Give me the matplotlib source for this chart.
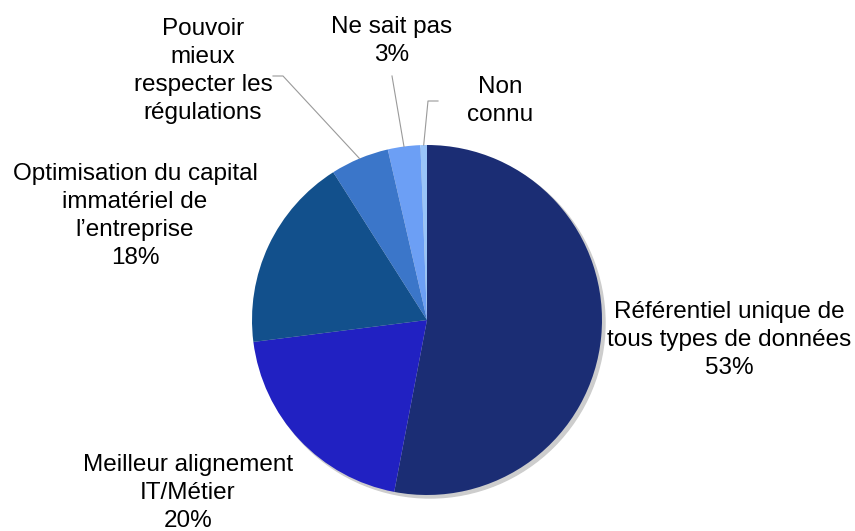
import numpy as np
import matplotlib
matplotlib.use("Agg")
import matplotlib.pyplot as plt
from matplotlib.patches import Circle

labels = ["Référentiel unique de\ntous types de données\n53%",
          "Meilleur alignement\nIT/Métier\n20%",
          "Optimisation du capital\nimmatériel de\nl\u2019entreprise\n18%",
          "Pouvoir\nmieux\nrespecter les\nrégulations",
          "Ne sait pas\n3%",
          "Non\nconnu"]
values = [53, 20, 18, 5.4, 3, 0.6]
colors = ["#1b2d74", "#2121c2", "#12508c", "#3b76c9", "#6c9ff5", "#99c4f8"]

W, H = 855, 531
fig = plt.figure(figsize=(W / 100, H / 100), dpi=100)
ax = fig.add_axes([0, 0, 1, 1])

cx, cy, R = 427, H - 320, 175

# drop shadow
ax.add_patch(Circle((cx + 3, cy - 3), R, color="#cdcdcd", zorder=0))

wedges, _ = ax.pie(values, colors=colors, startangle=90, counterclock=False,
                   center=(cx, cy), radius=R, frame=False,
                   wedgeprops=dict(edgecolor="none", linewidth=0))
for w in wedges:
    w.set_zorder(1)

ax.set_xlim(0, W)
ax.set_ylim(0, H)
ax.set_aspect("equal")
ax.axis("off")

font = dict(family=["Liberation Sans", "DejaVu Sans"], fontsize=17.5,
            ha="center", va="center", linespacing=1.35, color="#000000")

label_pos = [(729, 340), (188, 493), (135, 216), (203, 71), (392, 41), (500, 101)]
for lab, (px, py) in zip(labels, label_pos):
    ax.text(px, H - py, lab, **font)

# leader lines for the small slices
def rim(w):
    a = np.deg2rad((w.theta1 + w.theta2) / 2)
    return cx + R * np.cos(a), cy + R * np.sin(a)

leaders = {3: [(273, 76), (283, 76)], 4: [(392, 76)], 5: [(438, 101), (428, 101)]}
for i, pts in leaders.items():
    ex, ey = rim(wedges[i])
    xs = [p[0] for p in pts] + [ex]
    ys = [H - p[1] for p in pts] + [ey]
    ax.plot(xs, ys, color="#9a9a9a", lw=0.8, zorder=2)

fig.savefig("out.png", dpi=100)
